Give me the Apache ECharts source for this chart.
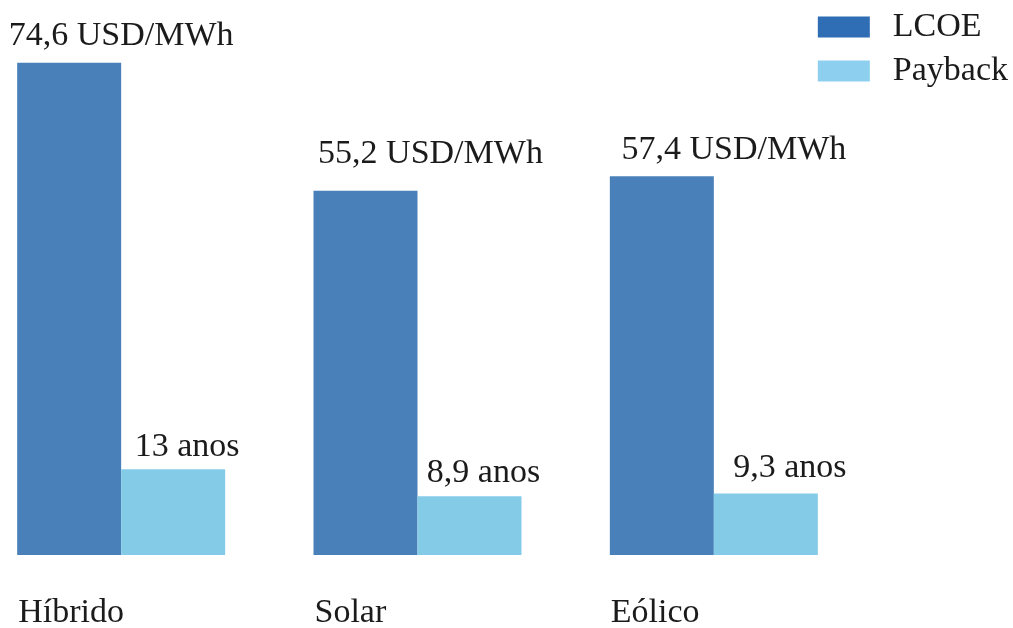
<!DOCTYPE html>
<html>
<head>
<meta charset="utf-8">
<script src="https://cdn.jsdelivr.net/npm/echarts@6/dist/echarts.min.js"></script>
<style>
  html, body { margin: 0; padding: 0; background: #ffffff; overflow: hidden; }
  /* the plot extends slightly past the left edge of the page */
  #chart { position: absolute; left: -27px; top: 0; width: 1040px; height: 628px; }
</style>
</head>
<body>
<div id="chart"></div>
<script>
// Comparison of LCOE and payback time per generation type
const categories = ['Híbrido', 'Solar', 'Eólico'];
const lcoeValues = [74.6, 55.2, 57.4];      // USD/MWh
const paybackValues = [13, 8.9, 9.3];       // years
const lcoeLabels = ['74,6 USD/MWh', '55,2 USD/MWh', '57,4 USD/MWh'];
const paybackLabels = ['13 anos', '8,9 anos', '9,3 anos'];

// label nudges (px) relative to the top-centre of each bar
const lcoeLabelOffsets = [[52, -5], [65, -15], [72, -4]];
const paybackLabelOffsets = [[14, 0], [14, -1], [24, -4]];

const FONT = "'Liberation Serif', 'Times New Roman', serif";
const LCOE_COLOR = '#4A80B9';
const PAYBACK_COLOR = '#84CBE8';

const chart = echarts.init(document.getElementById('chart'), null, { renderer: 'canvas' });

function buildData(values, labels, offsets) {
  return values.map((v, i) => ({
    value: v,
    label: { formatter: labels[i], offset: offsets[i] }
  }));
}

const labelStyle = {
  show: true,
  position: 'top',
  distance: 5,
  fontFamily: FONT,
  fontSize: 34,
  color: '#1b1b1b'
};

chart.setOption({
  backgroundColor: '#ffffff',
  animation: false,
  grid: { left: 0, width: 889, top: 27, bottom: 73, outerBoundsMode: 'none', containLabel: false },
  legend: {
    right: 0,
    top: 5,
    orient: 'vertical',
    itemWidth: 52,
    itemHeight: 21,
    itemGap: 10,
    icon: 'rect',
    textStyle: { fontFamily: FONT, fontSize: 34, color: '#1b1b1b', padding: [0, 0, 0, 18] },
    data: [
      { name: 'LCOE', itemStyle: { color: '#2F6DB5' } },
      { name: 'Payback', itemStyle: { color: '#8DCFEF' } }
    ]
  },
  xAxis: {
    type: 'category',
    data: categories,
    axisLine: { show: false },
    axisTick: { show: false },
    axisLabel: {
      margin: 41,
      formatter: v => '{l|' + v + '}',
      rich: {
        l: { width: 206, align: 'left', fontFamily: FONT, fontSize: 34, color: '#1b1b1b' }
      }
    }
  },
  yAxis: {
    type: 'value',
    min: 0,
    max: 80,
    show: false,
    splitLine: { show: false }
  },
  series: [
    {
      name: 'LCOE',
      type: 'bar',
      barWidth: 104,
      barGap: '0%',
      itemStyle: { color: LCOE_COLOR },
      label: labelStyle,
      data: buildData(lcoeValues, lcoeLabels, lcoeLabelOffsets)
    },
    {
      name: 'Payback',
      type: 'bar',
      barWidth: 104,
      barGap: '0%',
      itemStyle: { color: PAYBACK_COLOR },
      label: labelStyle,
      data: buildData(paybackValues, paybackLabels, paybackLabelOffsets)
    }
  ]
});
</script>
</body>
</html>
